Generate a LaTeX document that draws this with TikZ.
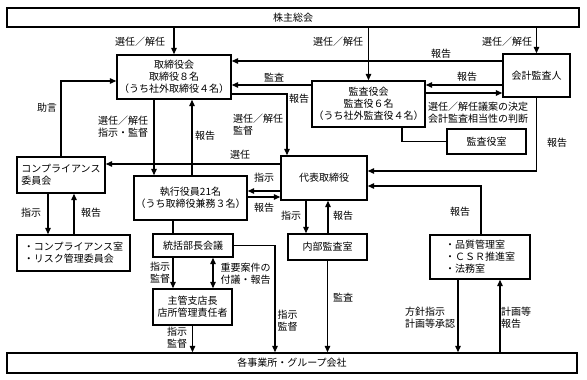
\documentclass[tikz,border=0pt]{standalone}
\usepackage{fontspec}
\setmainfont{Noto Sans CJK JP}
\usepackage{tikz}
\usetikzlibrary{
  arrows.meta,
  calc
}
\definecolor{linecolor}{RGB}{0, 0, 0}
\definecolor{labelcolor}{RGB}{0, 0, 0}
\tikzset{
blocktext/.style={
  align=center,
  font=\fontsize{10}{12}\selectfont,
  text=labelcolor
},
orgbox/.style={
  draw=linecolor,
  fill=white,
  line width=1.4pt,
  inner sep=0pt,
  blocktext
},
listbox/.style={
  orgbox,
  align=left
},
edgelabel/.style={
  inner sep=0pt,
  blocktext,
  align=left
},
plainline/.style={
  line width=1.3pt,
  draw=linecolor
},
arrow/.style={
  -{Triangle[length=6.5pt,width=5.5pt]},
  plainline
},
biarrow/.style={
  {Triangle[length=6.5pt,width=5.5pt]}-{Triangle[length=6.5pt,width=5.5pt]},
  plainline
},
thickarrow/.style={
  arrow,
  line width=2.2pt
}
}

\begin{document}
\begin{tikzpicture}[x=1pt, y=-1pt]
        \useasboundingbox (0,0) rectangle (587,380);

        % boxes
        \node[orgbox, minimum width=572pt, minimum height=19pt] (meeting) at (293,17.5) {株主総会};
        \node[orgbox, minimum width=114pt, minimum height=44pt] (board) at (174,77) {取締役会\\取締役８名\\（うち社外取締役４名）};
        \node[orgbox, minimum width=113pt, minimum height=46pt] (kansa) at (368.5,104) {監査役会\\監査役６名\\（うち社外監査役４名）};
        \node[orgbox, minimum width=67pt, minimum height=43pt] (auditor) at (536.5,75.5) {会計監査人};
        \node[orgbox, minimum width=79pt, minimum height=25pt] (kansaroom) at (486.5,141.5) {監査役室};
        \node[orgbox, minimum width=86pt, minimum height=44pt] (ceo) at (324,178) {代表取締役};
        \node[orgbox, minimum width=113pt, minimum height=44pt] (exec) at (190.5,198) {執行役員21名\\（うち取締役兼務３名）};
        \node[listbox, minimum width=88pt, minimum height=36pt] (committee) at (61,175) {コンプライアンス\\委員会};
        \node[listbox, minimum width=113pt, minimum height=36pt] (riskoffice) at (73.5,253) {・コンプライアンス室\\・リスク管理委員会};
        \node[orgbox, minimum width=80pt, minimum height=23pt] (bucho) at (193,245.5) {統括部長会議};
        \node[orgbox, minimum width=79pt, minimum height=36pt] (branch) at (192.5,307) {主管支店長\\店所管理責任者};
        \node[orgbox, minimum width=79pt, minimum height=26pt] (internal) at (327.5,247) {内部監査室};
        \node[listbox, minimum width=100pt, minimum height=44pt] (quality) at (480,257) {・品質管理室\\・ＣＳＲ推進室\\・法務室};
        \node[orgbox, minimum width=570pt, minimum height=20pt] (sites) at (292,363) {各事業所・グループ会社};

        % shareholders
        \draw[arrow] (meeting.south -| board.north) -- (board.north);
        \draw[arrow] (meeting.south -| kansa.north) -- (kansa.north);
        \draw[arrow] (meeting.south -| auditor.north) -- (auditor.north);
        \node[edgelabel] (selboard) at (140,42) {選任／解任};
        \node[edgelabel] (selkansa) at (338,42) {選任／解任};
        \node[edgelabel] (selauditor) at (507,42) {選任／解任};

        % auditors
        \draw[arrow] (auditor.west |- 0,61) -- (board.east |- 0,61);
        \node[edgelabel] (repauditorboard) at (441,54) {報告};
        \draw[arrow] (kansa.west |- 0,85) -- (board.east |- 0,85);
        \node[edgelabel] (auditboard) at (274,78) {監査};
        \draw[arrow] (auditor.west |- 0,85) -- (kansa.east |- 0,85);
        \node[edgelabel] (repauditorkansa) at (467,77) {報告};
        \draw[thickarrow] (kansa.east |- 0,93) -- (auditor.west |- 0,93);
        \node[edgelabel] (decision) at (478,112.5) {選任／解任議案の決定\\会計監査相当性の判断};
        \draw[plainline] (kansa.south -| 402,0) |- (kansaroom.west);
        \draw[arrow] (auditor.south) |- (ceo.east |- 0,171);
        \node[edgelabel] (repauditorceo) at (557,143) {報告};

        % board and president
        \draw[arrow] (board.east |- 0,94) -| (ceo.north -| 287,0);
        \node[edgelabel] (selceo) at (258,124.5) {選任／解任\\監督};
        \node[edgelabel] (repceoboard) at (299,99) {報告};
        \draw[arrow] (board.south -| 154,0) -- (exec.north -| 154,0);
        \node[edgelabel] (selexec) at (123,127) {選任／解任\\指示・監督};
        \draw[arrow] (exec.north -| 192,0) -- (board.south -| 192,0);
        \node[edgelabel] (repexecboard) at (205,136) {報告};

        % compliance
        \draw[arrow] (committee.north) |- (board.west |- 0,81);
        \node[edgelabel] (advice) at (47,108) {助言};
        \draw[arrow] (ceo.west |- 0,164) -- (committee.east |- 0,164);
        \node[edgelabel] (selcomp) at (240,155) {選任};
        \draw[arrow] (committee.south -| 48,0) -- (riskoffice.north -| 48,0);
        \node[edgelabel] (insrisk) at (31,213) {指示};
        \draw[arrow] (riskoffice.north -| 74,0) -- (committee.south -| 74,0);
        \node[edgelabel] (reprisk) at (91,213) {報告};

        % executive officers
        \draw[arrow] (ceo.west |- 0,191) -- (exec.east |- 0,191);
        \node[edgelabel] (insexec) at (264,178) {指示};
        \draw[arrow] (exec.east |- 0,197) -- (ceo.west |- 0,197);
        \node[edgelabel] (repexec) at (264,208) {報告};
        \draw[plainline] (exec.south -| 173,0) -- (bucho.north -| 173,0);
        \draw[arrow] (bucho.east) -| (sites.north -| 275,0);
        \node[edgelabel] (insbuchosites) at (287.5,320.5) {指示\\監督};
        \draw[arrow] (bucho.south -| 173,0) -- (branch.north -| 173,0);
        \node[edgelabel] (insbranch) at (160,273) {指示\\監督};
        \draw[biarrow] (bucho.south -| 213,0) -- (branch.north -| 213,0);
        \node[edgelabel] (agenda) at (245.5,273.5) {重要案件の\\付議・報告};
        \draw[arrow] (branch.south) -- (sites.north -| branch.south);
        \node[edgelabel] (inssites) at (177,338) {指示\\監督};

        % internal audit
        \draw[arrow] (ceo.south -| 306,0) -- (internal.north -| 306,0);
        \node[edgelabel] (insinternal) at (291,216) {指示};
        \draw[arrow] (internal.north -| 328,0) -- (ceo.south -| 328,0);
        \node[edgelabel] (repinternal) at (343,216) {報告};
        \draw[arrow] (internal.south) -- (sites.north -| internal.south);
        \node[edgelabel] (auditsites) at (343,298) {監査};

        % quality and legal
        \draw[arrow] (quality.north -| 481,0) |- (ceo.east |- 0,186);
        \node[edgelabel] (repquality) at (460,212) {報告};
        \draw[arrow] (quality.south -| 458,0) -- (sites.north -| 458,0);
        \node[edgelabel] (policy) at (430,318) {方針指示\\計画等承認};
        \draw[arrow] (sites.north -| 500,0) -- (quality.south -| 500,0);
        \node[edgelabel] (plan) at (516,318) {計画等\\報告};
      \end{tikzpicture}
\end{document}
